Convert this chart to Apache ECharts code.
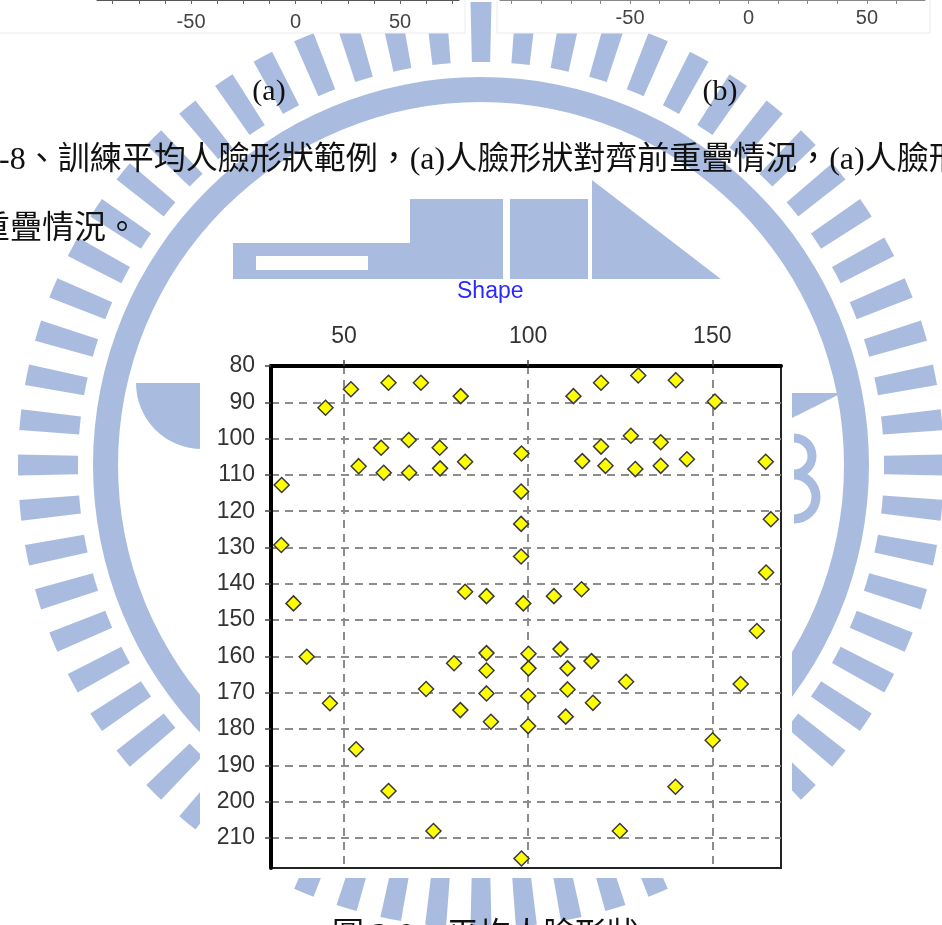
<!DOCTYPE html>
<html><head><meta charset="utf-8">
<script src="https://cdn.jsdelivr.net/npm/echarts@6/dist/echarts.min.js"></script>
<style>html,body{margin:0;padding:0;background:#fff}#c{width:942px;height:925px}</style>
</head><body><div id="c"></div>
<script>
// ---- data of the "Shape" scatter (x, y of each landmark) ----
const shapeX = [33.1,45.0,51.9,62.1,70.9,81.7,60.1,67.6,76.0,54.0,60.8,67.7,76.1,82.9,98.2,112.3,119.8,129.9,140.1,150.7,127.9,119.8,136.0,114.7,121.0,129.1,136.0,143.1,164.5,98.1,98.1,98.1,33.0,36.3,39.9,46.2,82.9,88.7,79.9,88.7,88.7,72.3,88.7,98.7,107.0,114.5,165.9,164.6,162.1,100.1,100.1,108.8,110.7,117.2,126.6,157.7,110.7,81.6,89.9,100.0,100.0,110.2,117.6,53.3,62.1,74.3,98.2,124.9,140.0,150.1];
const shapeY = [112.8,91.5,86.4,84.6,84.6,88.3,102.5,100.4,102.5,107.6,109.4,109.4,108.2,106.4,104.1,88.3,84.6,82.6,83.9,89.8,99.2,102.2,101.0,106.2,107.5,108.4,107.5,105.7,106.4,114.6,123.5,132.5,129.3,145.4,160.1,172.9,142.2,143.4,161.9,159.1,163.9,169.0,170.2,145.4,143.4,141.5,122.2,136.9,153.0,159.3,163.3,158.0,163.3,161.3,167.0,167.6,169.1,174.8,178.0,170.9,179.2,176.6,172.8,185.6,197.1,208.1,215.7,208.1,195.9,183.1];
// ---- tick labels ----
const xTicks = [50, 100, 150];
const yTicks = [80, 90, 100, 110, 120, 130, 140, 150, 160, 170, 180, 190, 200, 210];
const topLabelsA = [-50, 0, 50];
const topTicksA = [-87.5, -75, -62.5, -50, -37.5, -25, -12.5, 0, 12.5, 25, 37.5, 50, 62.5, 75];
const topLabelsB = [-50, 0, 50];
const topTicksB = [-100, -87.5, -75, -62.5, -50, -37.5, -25, -12.5, 0, 12.5, 25, 37.5, 50, 62.5];
// ---- texts ----
const titleText = 'Shape';
const captionLine1 = '-8、訓練平均人臉形狀範例，(a)人臉形狀對齊前重疊情況，(a)人臉形狀對齊後';
const captionLine2 = '重疊情況。';
const captionBottom = '圖 2-9、平均人臉形狀。';
const subLabels = ['(a)', '(b)'];

const WM = '#a9bce0';
const serif = '"Liberation Serif", "Noto Sans CJK TC", serif';
const sans = '"Liberation Sans", Arial, sans-serif';
const g = [];
// watermark emblem
const cx = 481, cy = 465;
for (let i = 0; i < 64; i++) {
  const a = -Math.PI / 2 + i * Math.PI * 2 / 64, w = 2.6 * Math.PI / 180;
  g.push({type:'sector', z:-10, silent:true, shape:{cx:cx, cy:cy, r0:403, r:463, startAngle:a - w/2, endAngle:a + w/2, clockwise:true}, style:{fill:WM}});
}
g.push({type:'ring', z:-10, silent:true, shape:{cx:cx, cy:cy, r0:363, r:388}, style:{fill:WM}});
g.push({type:'rect', z:-10, silent:true, shape:{x:233, y:243, width:177, height:40}, style:{fill:WM}});
g.push({type:'rect', z:-9, silent:true, shape:{x:256, y:256, width:112, height:14}, style:{fill:'#fff'}});
g.push({type:'rect', z:-10, silent:true, shape:{x:410, y:199, width:93, height:84}, style:{fill:WM}});
g.push({type:'rect', z:-10, silent:true, shape:{x:510, y:199, width:78, height:84}, style:{fill:WM}});
g.push({type:'polygon', z:-10, silent:true, shape:{points:[[592,180],[592,283],[726,283]]}, style:{fill:WM}});
g.push({type:'sector', z:-10, silent:true, shape:{cx:202, cy:383, r0:0, r:66, startAngle:Math.PI/2, endAngle:Math.PI, clockwise:true}, style:{fill:WM}});
g.push({type:'polygon', z:-10, silent:true, shape:{points:[[788,393],[842,393],[788,420]]}, style:{fill:WM}});
g.push({type:'arc', z:-10, silent:true, shape:{cx:794, cy:456, r:18, startAngle:-Math.PI/2, endAngle:Math.PI/2, clockwise:true}, style:{stroke:WM, lineWidth:9, fill:null}});
g.push({type:'arc', z:-10, silent:true, shape:{cx:794, cy:497, r:22, startAngle:-Math.PI/2, endAngle:Math.PI/2, clockwise:true}, style:{stroke:WM, lineWidth:9, fill:null}});
// white backgrounds of pasted figures
g.push({type:'rect', z:-5, silent:true, shape:{x:200, y:279, width:592, height:599}, style:{fill:'#fff'}});
g.push({type:'rect', z:-5, silent:true, shape:{x:-5, y:-2, width:470, height:35}, style:{fill:'#fff', stroke:'#ececec', lineWidth:1}});
g.push({type:'rect', z:-5, silent:true, shape:{x:497, y:-2, width:433, height:35}, style:{fill:'#fff', stroke:'#ececec', lineWidth:1}});
// document texts
g.push({type:'text', x:269, y:92, style:{text:subLabels[0], font:'30px ' + serif, fill:'#111', align:'center', verticalAlign:'middle'}});
g.push({type:'text', x:720, y:92, style:{text:subLabels[1], font:'30px ' + serif, fill:'#111', align:'center', verticalAlign:'middle'}});
g.push({type:'text', x:-1, y:161, style:{text:captionLine1, font:'32px ' + serif, fill:'#111', align:'left', verticalAlign:'middle'}});
g.push({type:'text', x:-22, y:230, style:{text:captionLine2, font:'32px ' + serif, fill:'#111', align:'left', verticalAlign:'middle'}});
g.push({type:'text', x:332, y:937, style:{text:captionBottom, font:'32px ' + serif, fill:'#111', align:'left', verticalAlign:'middle'}});

const chart = echarts.init(document.getElementById('c'));
chart.setOption({
  animation: false,
  backgroundColor: '#fff',
  title: {text: titleText, left: 457, top: 280, padding: 0, textStyle: {color:'#2a2aff', fontSize:23, fontWeight:'normal', fontFamily:sans}},
  graphic: {elements: g},
  grid: [
    {left:271, top:366, width:510, height:502, show:true, borderColor:'#222', borderWidth:2, backgroundColor:'transparent', outerBoundsMode:'none', containLabel:false},
    {left:97, top:-100, width:362, height:100, outerBoundsMode:'none', containLabel:false},
    {left:500, top:-100, width:425, height:100, outerBoundsMode:'none', containLabel:false}
  ],
  xAxis: [
    {gridIndex:0, type:'value', position:'top', min:30.2, max:168.65, splitNumber:3,
     axisLine:{show:true, onZero:false, lineStyle:{color:'#000', width:4}},
     axisTick:{show:true, customValues:xTicks, length:6, lineStyle:{color:'#444', width:1.5}},
     axisLabel:{customValues:xTicks, fontSize:23, fontFamily:sans, color:'#333', margin:18},
     splitLine:{show:true, lineStyle:{color:'#8c8c8c', type:[8,6], width:2}}},
    {gridIndex:1, type:'value', position:'bottom', min:-95, max:78.2,
     axisLine:{show:true, onZero:false, lineStyle:{color:'#555', width:1}},
     axisTick:{show:true, customValues:topTicksA, length:4, lineStyle:{color:'#666'}},
     axisLabel:{customValues:topLabelsA, fontSize:20, fontFamily:sans, color:'#444', margin:12},
     splitLine:{show:false}},
    {gridIndex:2, type:'value', position:'bottom', min:-104.9, max:74.5,
     axisLine:{show:true, onZero:false, lineStyle:{color:'#888', width:1}},
     axisTick:{show:true, customValues:topTicksB, length:4, lineStyle:{color:'#888'}},
     axisLabel:{customValues:topLabelsB, fontSize:20, fontFamily:sans, color:'#444', margin:8},
     splitLine:{show:false}}
  ],
  yAxis: [
    {gridIndex:0, type:'value', inverse:true, min:80, max:218.3, interval:10,
     axisLine:{show:true, onZero:false, lineStyle:{color:'#000', width:4}},
     axisTick:{show:true, customValues:yTicks, length:6, lineStyle:{color:'#444', width:1.5}},
     axisLabel:{customValues:yTicks, fontSize:23, fontFamily:sans, color:'#333', margin:16},
     splitLine:{show:true, lineStyle:{color:'#8c8c8c', type:[8,6], width:2}}},
    {gridIndex:1, type:'value', show:false, min:0, max:1},
    {gridIndex:2, type:'value', show:false, min:0, max:1}
  ],
  series: [{
    type:'scatter', xAxisIndex:0, yAxisIndex:0,
    data: shapeX.map((x, i) => [x, shapeY[i]]),
    symbol:'diamond', symbolSize:15,
    itemStyle:{color:'#ffff00', borderColor:'#3a3a3a', borderWidth:1.5, opacity:1}
  }]
});
</script></body></html>
